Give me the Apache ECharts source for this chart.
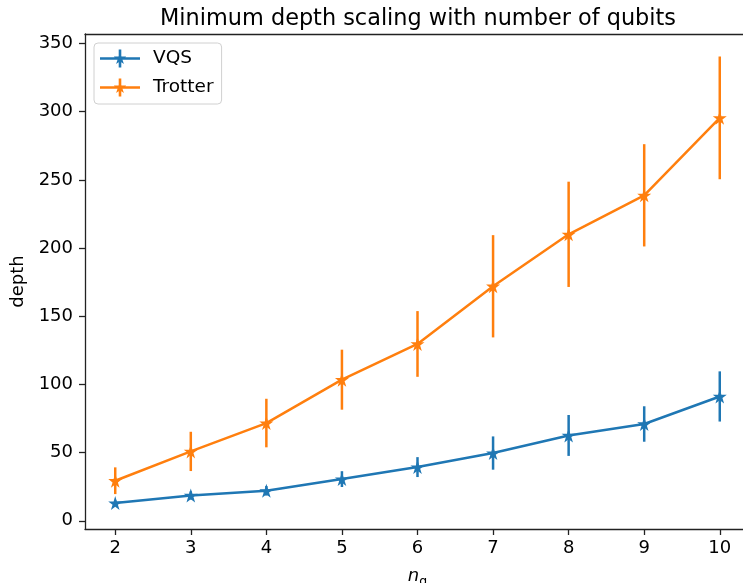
<!DOCTYPE html>
<html>
<head>
<meta charset="utf-8">
<script src="https://cdn.jsdelivr.net/npm/echarts@6/dist/echarts.min.js"></script>
<style>html,body{margin:0;padding:0;background:#fff;overflow:hidden}#c{width:743px;height:583px}</style>
</head>
<body>
<div id="c"></div>
<script>
const nq = [2, 3, 4, 5, 6, 7, 8, 9, 10];
const vqsDepth = [13, 18.6, 22, 30.6, 39.4, 49.7, 62.6, 71, 91.2];
const vqsErr = [2, 3, 3.5, 5.8, 7.3, 12.2, 15, 13, 18.4];
const trotterDepth = [29.4, 50.9, 71.7, 103.5, 129.7, 172, 210.1, 238.7, 295.5];
const trotterErr = [9.8, 14.4, 17.8, 22, 24.1, 37.5, 38.6, 37.5, 45];
const xTicks = [2, 3, 4, 5, 6, 7, 8, 9, 10];
const yTicks = [0, 50, 100, 150, 200, 250, 300, 350];

const BLUE = '#1f77b4', ORANGE = '#ff7f0e';
const FONT = 'DejaVu Sans';
const STAR = 'path://M50,0 L61.23,34.55 L97.55,34.55 L68.17,55.9 L79.39,90.45 L50,69.1 L20.61,90.45 L31.83,55.9 L2.45,34.55 L38.77,34.55 Z';
const LEG_ICON = 'path://M0,7.8 L40,7.8 L40,10.2 L0,10.2 Z M18.7,0 L21.3,0 L21.3,18 L18.7,18 Z M20,2.8 L21.5,7.1 L26.3,7.1 L22.4,9.9 L23.9,14.4 L20,11.7 L16.1,14.4 L17.6,9.9 L13.7,7.1 L18.5,7.1 Z';

function pts(xs, ys) { return xs.map((x, i) => [x, ys[i]]); }
function errs(xs, ys, es) { return xs.map((x, i) => [x, ys[i] - es[i], ys[i] + es[i]]); }

function errSeries(name, color, data) {
  return {
    type: 'custom', name: name, data: data, z: 2,
    itemStyle: { color: color },
    encode: { x: 0, y: [1, 2] },
    renderItem: function (params, api) {
      const a = api.coord([api.value(0), api.value(1)]);
      const b = api.coord([api.value(0), api.value(2)]);
      return { type: 'line', shape: { x1: a[0], y1: a[1], x2: b[0], y2: b[1] },
        style: { stroke: color, lineWidth: 2.5 } };
    }
  };
}
function lineSeries(name, color, data) {
  return {
    type: 'line', name: name, data: data, z: 3,
    symbol: STAR, symbolSize: 14, showSymbol: true,
    itemStyle: { color: color },
    lineStyle: { color: color, width: 2.5 },
    animation: false
  };
}

const axisCommon = {
  splitLine: { show: false },
  axisLine: { show: true, onZero: false, lineStyle: { color: '#222', width: 1.3 } }
};

const chart = echarts.init(document.getElementById('c'), null, { renderer: 'canvas' });
chart.setOption({
  animation: false,
  textStyle: { fontFamily: FONT },
  title: {
    text: 'Minimum depth scaling with number of qubits',
    left: 413, top: 3, textAlign: 'center',
    textStyle: { fontFamily: FONT, fontSize: 22.4, fontWeight: 'normal', color: '#000' }
  },
  grid: { left: 85, top: 34, width: 665, height: 495, show: false,
          containLabel: false, outerBoundsMode: 'none' },
  legend: {
    orient: 'vertical', left: 94, top: 43,
    padding: [6, 8, 7, 6], itemGap: 10, itemWidth: 40, itemHeight: 18,
    backgroundColor: '#fff', borderColor: '#d0d0d0', borderWidth: 1, borderRadius: 4,
    textStyle: { fontFamily: FONT, fontSize: 18.5, color: '#000', padding: [0, 0, 0, 8] },
    data: [
      { name: 'VQS', icon: LEG_ICON, itemStyle: { color: BLUE } },
      { name: 'Trotter', icon: LEG_ICON, itemStyle: { color: ORANGE } }
    ]
  },
  xAxis: [{
    type: 'value', min: 1.6, max: 10.4, position: 'bottom',
    name: '{n|n}{q|q}', nameLocation: 'middle', nameGap: 36,
    nameTextStyle: { rich: {
      n: { fontFamily: FONT, fontStyle: 'italic', fontSize: 18, color: '#000' },
      q: { fontFamily: FONT, fontSize: 12.5, color: '#000', padding: [10, 0, 0, 0] }
    } },
    ...axisCommon,
    axisTick: { show: true, length: 6, lineStyle: { color: '#222', width: 1.3 }, customValues: xTicks },
    axisLabel: { fontFamily: FONT, fontSize: 18, color: '#000', margin: 10, customValues: xTicks }
  }, {
    type: 'value', min: 1.6, max: 10.4, position: 'top',
    ...axisCommon,
    axisTick: { show: false }, axisLabel: { show: false }
  }],
  yAxis: {
    type: 'value', min: -6, max: 357,
    name: 'depth', nameLocation: 'middle', nameGap: 55,
    nameTextStyle: { fontFamily: FONT, fontSize: 18, color: '#000' },
    ...axisCommon,
    axisTick: { show: true, length: 6, lineStyle: { color: '#222', width: 1.3 }, customValues: yTicks },
    axisLabel: { fontFamily: FONT, fontSize: 18, color: '#000', margin: 12, customValues: yTicks }
  },
  series: [
    errSeries('VQS', BLUE, errs(nq, vqsDepth, vqsErr)),
    lineSeries('VQS', BLUE, pts(nq, vqsDepth)),
    errSeries('Trotter', ORANGE, errs(nq, trotterDepth, trotterErr)),
    lineSeries('Trotter', ORANGE, pts(nq, trotterDepth))
  ]
});
</script>
</body>
</html>
